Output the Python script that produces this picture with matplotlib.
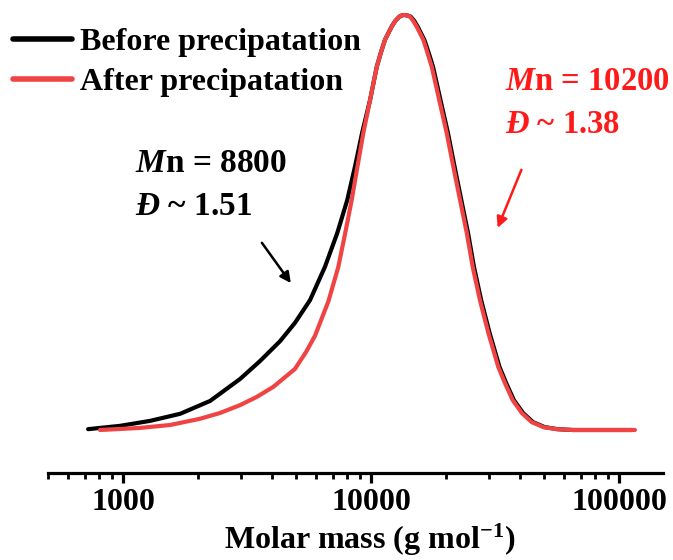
import matplotlib
matplotlib.use("Agg")
import numpy as np
import matplotlib.pyplot as plt
from matplotlib.ticker import LogLocator, NullFormatter, FixedLocator

plt.rcParams["font.family"] = ["Liberation Serif", "DejaVu Serif"]
plt.rcParams["font.weight"] = "bold"
plt.rcParams["mathtext.fontset"] = "custom"
plt.rcParams["mathtext.rm"] = "Liberation Serif:bold"
plt.rcParams["mathtext.bf"] = "Liberation Serif:bold"
plt.rcParams["mathtext.it"] = "Liberation Serif:bold:italic"
plt.rcParams["mathtext.default"] = "rm"

# GPC traces: log10 of molar mass (g/mol) and normalised detector response
before_logm = [2.859, 2.907, 2.988, 3.109, 3.230, 3.351, 3.472, 3.552, 3.633,
               3.693, 3.754, 3.814, 3.864, 3.904, 3.935, 3.964, 3.996, 4.023,
               4.039, 4.056, 4.083, 4.098, 4.114, 4.124, 4.134, 4.146, 4.160,
               4.174, 4.188, 4.215, 4.233, 4.250, 4.280, 4.310, 4.337, 4.364,
               4.391, 4.415, 4.444, 4.478, 4.518, 4.545, 4.576, 4.613, 4.653,
               4.700, 4.752, 4.814, 5.050]
before_signal = [0.002, 0.005, 0.010, 0.022, 0.039, 0.070, 0.123, 0.166, 0.214,
                 0.258, 0.313, 0.393, 0.475, 0.554, 0.634, 0.716, 0.795, 0.875,
                 0.908, 0.940, 0.972, 0.986, 0.996, 0.999, 1.000, 0.999, 0.996,
                 0.986, 0.972, 0.940, 0.908, 0.875, 0.795, 0.716, 0.634, 0.554,
                 0.475, 0.393, 0.313, 0.234, 0.152, 0.113, 0.072, 0.041, 0.019,
                 0.007, 0.002, 0.0, 0.0]

after_logm = [2.907, 3.068, 3.189, 3.310, 3.391, 3.472, 3.540, 3.606, 3.693,
              3.738, 3.774, 3.828, 3.868, 3.896, 3.922, 3.945, 3.969, 3.996,
              4.023, 4.039, 4.056, 4.083, 4.098, 4.114, 4.124, 4.134, 4.146,
              4.157, 4.170, 4.184, 4.211, 4.228, 4.245, 4.275, 4.305, 4.332,
              4.359, 4.386, 4.410, 4.439, 4.473, 4.513, 4.540, 4.571, 4.608,
              4.648, 4.695, 4.749, 4.814, 5.064]
after_signal = [0.0, 0.005, 0.012, 0.027, 0.041, 0.060, 0.080, 0.104, 0.147,
                0.188, 0.227, 0.310, 0.393, 0.475, 0.554, 0.634, 0.716, 0.795,
                0.875, 0.908, 0.940, 0.972, 0.986, 0.996, 0.999, 1.000, 0.999,
                0.996, 0.986, 0.972, 0.940, 0.908, 0.875, 0.795, 0.716, 0.634,
                0.554, 0.475, 0.393, 0.313, 0.234, 0.152, 0.113, 0.072, 0.041,
                0.019, 0.007, 0.002, 0.0, 0.0]

series_labels = ["Before precipatation", "After precipatation"]
major_ticks = [1000, 10000, 100000]
tick_labels = ["1000", "10000", "100000"]

W, H = 673, 560
fig = plt.figure(figsize=(W / 100, H / 100), dpi=100)
ax = fig.add_axes([48.4 / W, 1 - 473 / H, (662.7 - 48.4) / W, (473 - 5) / H])

black = "#000000"
red = "#F04444"
text_red = "#FF1A1A"
line_kw = dict(lw=3.0, solid_capstyle="round", solid_joinstyle="round")
ax.plot(10 ** np.array(before_logm), before_signal, color=black,
        label=series_labels[0], zorder=2, **line_kw)
ax.plot(10 ** np.array(after_logm), after_signal, color=red,
        label=series_labels[1], zorder=3, **line_kw)

ax.set_xscale("log")
ax.set_xlim(500, 150000)
ax.set_ylim(-43 / 415, 1 + 10 / 415)

for s in ["top", "right", "left"]:
    ax.spines[s].set_visible(False)
ax.spines["bottom"].set_linewidth(2.3)
ax.set_yticks([])
ax.xaxis.set_major_locator(FixedLocator(major_ticks))
ax.set_xticklabels(tick_labels)
ax.xaxis.set_minor_locator(LogLocator(base=10, subs=range(2, 10)))
ax.xaxis.set_minor_formatter(NullFormatter())
ax.tick_params(axis="x", which="major", direction="out", length=7, width=2.3,
               labelsize=23, pad=4)
ax.tick_params(axis="x", which="minor", direction="out", length=4, width=2.0)
for t in ax.get_xticklabels():
    t.set_fontweight("bold")

ax.set_xlabel(r"Molar mass (g mol$^{-1}$)", fontsize=23, fontweight="bold")
ax.xaxis.set_label_coords((370 - 48.4) / (662.7 - 48.4), (473 - 549) / 468)
ax.xaxis.label.set_va("baseline")

leg = ax.legend(loc="upper left", bbox_to_anchor=(13 / W, 1 - 28 / H),
                bbox_transform=fig.transFigure, frameon=False,
                fontsize=23, handlelength=1.85, handletextpad=0.25,
                labelspacing=0.33, borderpad=0, borderaxespad=0)
for line in leg.get_lines():
    line.set_linewidth(4)
for t in leg.get_texts():
    t.set_fontweight("bold")


def fig_xy(px, py):
    return px / W, 1 - py / H


fig.text(*fig_xy(135, 172), r"$\mathit{M}$n = 8800", fontsize=24, color=black,
         fontweight="bold", va="baseline", ha="left")
fig.text(*fig_xy(135, 215), r"$\mathit{Đ}$ ~ 1.51", fontsize=24, color=black,
         fontweight="bold", va="baseline", ha="left")
fig.text(*fig_xy(505, 90), r"$\mathit{M}$n = 10200", fontsize=23.5, color=text_red,
         fontweight="bold", va="baseline", ha="left")
fig.text(*fig_xy(505, 133), r"$\mathit{Đ}$ ~ 1.38", fontsize=23.5, color=text_red,
         fontweight="bold", va="baseline", ha="left")

ax.annotate("", xy=(4750, 0.354), xytext=(3630, 0.451),
            arrowprops=dict(arrowstyle="-|>", color=black, lw=1.8,
                            mutation_scale=16, shrinkA=0, shrinkB=0))
ax.annotate("", xy=(32400, 0.487), xytext=(40400, 0.627),
            arrowprops=dict(arrowstyle="-|>", color=text_red, lw=1.8,
                            mutation_scale=16, shrinkA=0, shrinkB=0))

fig.savefig("out.png", dpi=100)
